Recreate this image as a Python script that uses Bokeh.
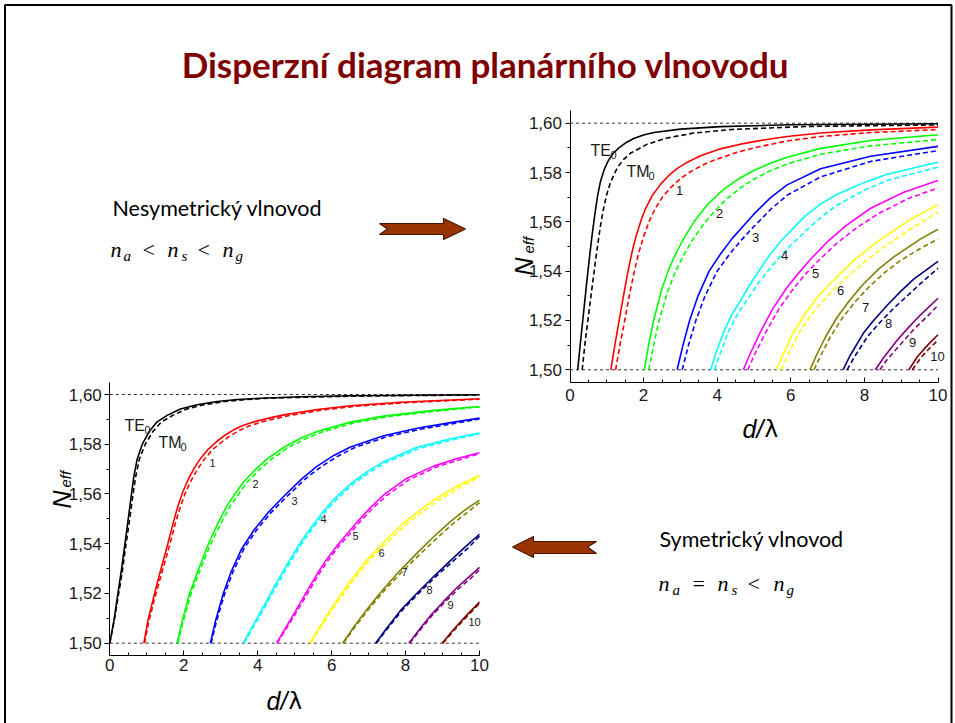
import math
from bokeh.plotting import figure
from bokeh.models import Range1d, LinearAxis, SingleIntervalTicker, CustomJSTickFormatter
from bokeh.embed import file_html
from bokeh.resources import INLINE
from bokeh.core.properties import value

# ---------------- data ----------------
mode_colors = ["#000000", "#FF0000", "#00FF00", "#0000FF", "#00FFFF", "#FF00FF",
               "#FFFF00", "#808000", "#000080", "#800080", "#800000"]
mode_numbers = ["1", "2", "3", "4", "5", "6", "7", "8", "9", "10"]
ref_levels = [1.50, 1.60]
x_span = [0.0, 10.0]

# asymmetric waveguide (upper-right chart): TE solid, TM dashed
asym_te_x = [
    [0.21, 0.28, 0.35, 0.42, 0.48, 0.54, 0.60, 0.67, 0.75, 0.83, 0.93, 1.03, 1.17, 1.33, 1.53, 1.73, 2.0, 2.28, 3.0, 4.09, 6.0, 10.0],
    [1.11, 1.23, 1.33, 1.46, 1.57, 1.69, 1.80, 1.95, 2.08, 2.25, 2.46, 2.70, 2.91, 3.2, 3.55, 4.09, 4.63, 5.3, 5.9, 6.81, 8.17, 10.0],
    [2.02, 2.14, 2.28, 2.50, 2.69, 2.89, 3.08, 3.36, 3.6, 3.77, 4.0, 4.23, 4.59, 4.99, 5.45, 5.9, 6.81, 8.17, 10.0],
    [2.91, 3.07, 3.25, 3.48, 3.78, 4.10, 4.42, 4.99, 5.45, 5.9, 6.81, 8.17, 10.0],
    [3.82, 3.97, 4.18, 4.40, 4.63, 4.9, 5.18, 5.45, 5.72, 6.35, 6.8, 7.26, 8.0, 8.62, 10.0],
    [4.71, 4.88, 5.18, 5.5, 5.9, 6.2, 6.5, 7.0, 7.5, 8.17, 9.07, 10.0],
    [5.61, 5.8, 6.05, 6.35, 6.7, 7.08, 7.71, 8.35, 9.2, 10.0],
    [6.52, 6.7, 6.95, 7.26, 7.6, 7.98, 8.4, 8.8, 9.52, 10.0],
    [7.42, 7.6, 7.98, 8.25, 8.62, 9.0, 9.34, 10.0],
    [8.30, 8.5, 8.89, 9.2, 9.52, 10.0],
    [9.21, 9.45, 9.75, 10.0],
]
asym_te_n = [
    [1.500, 1.5105, 1.5205, 1.5305, 1.5390, 1.5470, 1.5545, 1.5625, 1.5705, 1.5765, 1.5812, 1.5845, 1.5877, 1.5900, 1.5922, 1.5938, 1.5952, 1.5962, 1.5976, 1.5986, 1.5994, 1.5998],
    [1.500, 1.511, 1.5195, 1.5305, 1.5395, 1.5480, 1.5545, 1.5615, 1.5662, 1.5710, 1.5752, 1.5790, 1.5816, 1.5843, 1.5868, 1.5896, 1.5915, 1.5933, 1.5946, 1.5960, 1.5973, 1.5984],
    [1.500, 1.5105, 1.5205, 1.5330, 1.5410, 1.5475, 1.5530, 1.5598, 1.5645, 1.5675, 1.5708, 1.5738, 1.5775, 1.5808, 1.5838, 1.5862, 1.5898, 1.5930, 1.5953],
    [1.500, 1.510, 1.520, 1.530, 1.540, 1.5472, 1.5535, 1.5630, 1.5698, 1.5750, 1.5815, 1.5866, 1.5906],
    [1.500, 1.507, 1.5155, 1.5225, 1.528, 1.5348, 1.5412, 1.5470, 1.5520, 1.5618, 1.5672, 1.5712, 1.5760, 1.5793, 1.5842],
    [1.500, 1.506, 1.5155, 1.5245, 1.5335, 1.5390, 1.5442, 1.5520, 1.5585, 1.5655, 1.5720, 1.5768],
    [1.500, 1.5065, 1.5145, 1.5218, 1.5290, 1.5352, 1.5443, 1.5520, 1.5605, 1.5670],
    [1.500, 1.506, 1.5135, 1.5213, 1.5282, 1.5349, 1.5410, 1.5458, 1.5530, 1.5570],
    [1.500, 1.5055, 1.5150, 1.5200, 1.5262, 1.5320, 1.5368, 1.5440],
    [1.500, 1.5045, 1.5120, 1.5172, 1.5222, 1.5290],
    [1.500, 1.5055, 1.5105, 1.5142],
]
asym_tm_x = [
    [0.33, 0.41, 0.49, 0.57, 0.64, 0.70, 0.76, 0.83, 0.90, 1.0, 1.10, 1.28, 1.45, 1.64, 2.10, 2.64, 3.36, 4.45, 6.5, 10.0],
    [1.24, 1.37, 1.48, 1.63, 1.75, 1.87, 2.0, 2.16, 2.32, 2.52, 2.73, 3.0, 3.27, 3.6, 3.91, 4.54, 5.0, 5.9, 6.81, 8.17, 10.0],
    [2.14, 2.28, 2.41, 2.66, 2.87, 3.09, 3.32, 3.6, 3.86, 4.1, 4.32, 4.65, 4.99, 5.45, 5.9, 6.81, 8.17, 10.0],
    [3.05, 3.22, 3.42, 3.67, 4.0, 4.35, 4.68, 4.99, 5.45, 5.9, 6.81, 8.17, 10.0],
    [3.93, 4.09, 4.31, 4.55, 4.80, 5.1, 5.4, 5.7, 6.0, 6.6, 6.9, 7.26, 8.0, 8.62, 10.0],
    [4.83, 5.01, 5.33, 5.67, 6.1, 6.4, 6.72, 7.25, 7.78, 8.4, 9.2, 10.0],
    [5.74, 5.94, 6.2, 6.52, 6.9, 7.3, 7.98, 8.6, 9.3, 10.0],
    [6.63, 6.82, 7.08, 7.4, 7.76, 8.15, 8.58, 9.0, 9.52, 10.0],
    [7.53, 7.74, 8.1, 8.44, 8.8, 9.2, 9.6, 10.0],
    [8.42, 8.62, 9.05, 9.35, 9.7, 10.0],
    [9.30, 9.55, 9.8, 10.0],
]
asym_tm_n = [
    [1.500, 1.511, 1.5205, 1.5300, 1.5380, 1.5450, 1.5515, 1.5585, 1.5645, 1.5712, 1.5760, 1.5818, 1.5852, 1.5878, 1.5915, 1.5940, 1.5960, 1.5975, 1.5987, 1.5993],
    [1.500, 1.511, 1.5195, 1.5315, 1.5400, 1.5475, 1.5540, 1.5605, 1.5655, 1.5702, 1.5738, 1.5775, 1.5803, 1.5830, 1.5850, 1.5882, 1.5900, 1.5928, 1.5946, 1.5962, 1.5974],
    [1.500, 1.5105, 1.5195, 1.5320, 1.5400, 1.5465, 1.5525, 1.5585, 1.5632, 1.5670, 1.5700, 1.5740, 1.5772, 1.5808, 1.5835, 1.5874, 1.5908, 1.5934],
    [1.500, 1.510, 1.520, 1.530, 1.540, 1.5472, 1.5530, 1.5580, 1.5650, 1.5708, 1.5782, 1.5845, 1.5889],
    [1.500, 1.507, 1.5155, 1.5225, 1.528, 1.5348, 1.5405, 1.5458, 1.5505, 1.5590, 1.5628, 1.5668, 1.5728, 1.5768, 1.5822],
    [1.500, 1.506, 1.5155, 1.5245, 1.5335, 1.5388, 1.5438, 1.5513, 1.5575, 1.5635, 1.5695, 1.5738],
    [1.500, 1.5065, 1.5145, 1.5215, 1.5285, 1.5345, 1.5435, 1.5505, 1.5575, 1.5640],
    [1.500, 1.506, 1.5135, 1.5210, 1.5278, 1.5340, 1.5398, 1.5445, 1.5492, 1.5530],
    [1.500, 1.5055, 1.5138, 1.5195, 1.5250, 1.5305, 1.5360, 1.5412],
    [1.500, 1.5042, 1.5115, 1.5165, 1.5215, 1.5262],
    [1.500, 1.5052, 1.5092, 1.5120],
]

# symmetric waveguide (lower-left chart)
sym_te_x = [
    [0.0, 0.11, 0.22, 0.31, 0.41, 0.49, 0.56, 0.65, 0.74, 0.88, 1.06, 1.28, 1.55, 1.91, 2.36, 2.90, 3.45, 4.08, 5.2, 6.5, 10.0],
    [0.92, 1.03, 1.21, 1.37, 1.57, 1.71, 1.82, 1.96, 2.08, 2.18, 2.3, 2.45, 2.65, 2.90, 3.1, 3.35, 3.6, 3.9, 4.3, 4.71, 5.61, 6.51, 7.86, 10.0],
    [1.82, 1.96, 2.16, 2.38, 2.63, 2.77, 2.95, 3.18, 3.4, 3.62, 3.95, 4.26, 4.71, 5.16, 5.61, 6.51, 7.41, 8.76, 10.0],
    [2.72, 2.86, 3.07, 3.29, 3.57, 3.9, 4.28, 4.7, 5.2, 5.61, 6.06, 6.51, 7.41, 8.31, 9.22, 10.0],
    [3.61, 3.81, 4.0, 4.26, 4.48, 4.71, 4.93, 5.16, 5.47, 5.75, 6.06, 6.51, 6.96, 7.41, 8.31, 9.22, 10.0],
    [4.51, 4.75, 4.98, 5.3, 5.61, 5.88, 6.15, 6.38, 6.69, 7.05, 7.41, 8.0, 8.76, 9.4, 10.0],
    [5.41, 5.7, 5.97, 6.25, 6.51, 6.96, 7.45, 8.0, 8.4, 8.76, 9.4, 10.0],
    [6.30, 6.6, 6.9, 7.15, 7.41, 7.85, 8.31, 8.76, 9.22, 9.6, 10.0],
    [7.19, 7.5, 7.86, 8.3, 8.76, 9.2, 9.6, 10.0],
    [8.09, 8.4, 8.7, 9.03, 9.4, 9.7, 10.0],
    [8.99, 9.3, 9.65, 10.0],
]
sym_te_n = [
    [1.500, 1.509, 1.520, 1.529, 1.540, 1.549, 1.557, 1.567, 1.574, 1.580, 1.585, 1.589, 1.5916, 1.5942, 1.5959, 1.5972, 1.5980, 1.5985, 1.5991, 1.5995, 1.5999],
    [1.500, 1.509, 1.520, 1.529, 1.540, 1.548, 1.554, 1.5603, 1.5645, 1.5676, 1.5708, 1.5742, 1.5778, 1.5812, 1.5835, 1.5858, 1.5875, 1.5890, 1.5905, 1.5918, 1.5940, 1.5955, 1.5969, 1.5983],
    [1.500, 1.509, 1.520, 1.529, 1.5385, 1.5433, 1.5490, 1.5555, 1.5603, 1.5648, 1.5700, 1.5741, 1.5788, 1.5824, 1.5851, 1.5889, 1.5913, 1.5936, 1.5952],
    [1.500, 1.509, 1.520, 1.529, 1.538, 1.5455, 1.5525, 1.5590, 1.5662, 1.5712, 1.5755, 1.5789, 1.5834, 1.5864, 1.5887, 1.5905],
    [1.500, 1.5055, 1.5105, 1.5175, 1.5235, 1.5295, 1.5350, 1.5405, 1.5470, 1.5525, 1.5578, 1.5640, 1.5690, 1.5730, 1.5788, 1.5822, 1.5845],
    [1.500, 1.506, 1.5118, 1.520, 1.5279, 1.534, 1.5393, 1.5433, 1.5487, 1.5545, 1.5596, 1.5660, 1.5712, 1.5743, 1.5766],
    [1.500, 1.507, 1.5135, 1.5195, 1.525, 1.5335, 1.5412, 1.5490, 1.5535, 1.5575, 1.5632, 1.5674],
    [1.500, 1.5065, 1.5125, 1.5172, 1.5219, 1.5292, 1.5362, 1.5428, 1.5490, 1.5535, 1.5575],
    [1.500, 1.5062, 1.5131, 1.5200, 1.5268, 1.5330, 1.5385, 1.5438],
    [1.500, 1.506, 1.5115, 1.5168, 1.5225, 1.5265, 1.5305],
    [1.500, 1.5055, 1.5112, 1.5165],
]
sym_tm_x = [
    [0.0, 0.12, 0.24, 0.34, 0.44, 0.53, 0.60, 0.70, 0.80, 0.96, 1.16, 1.40, 1.70, 2.08, 2.55, 3.10, 3.70, 4.30, 5.5, 6.8, 10.0],
    [0.94, 1.06, 1.25, 1.42, 1.63, 1.77, 1.89, 2.04, 2.17, 2.28, 2.41, 2.57, 2.78, 3.04, 3.25, 3.51, 3.77, 4.07, 4.47, 4.88, 5.78, 6.66, 8.0, 10.0],
    [1.84, 1.99, 2.20, 2.43, 2.69, 2.84, 3.03, 3.27, 3.50, 3.72, 4.06, 4.38, 4.84, 5.29, 5.74, 6.64, 7.54, 8.88, 10.0],
    [2.74, 2.89, 3.11, 3.34, 3.63, 3.97, 4.36, 4.79, 5.30, 5.72, 6.18, 6.63, 7.53, 8.43, 9.33, 10.0],
    [3.63, 3.84, 4.04, 4.30, 4.53, 4.76, 4.98, 5.21, 5.53, 5.81, 6.13, 6.58, 7.04, 7.49, 8.40, 9.31, 10.0],
    [4.53, 4.78, 5.02, 5.35, 5.66, 5.94, 6.21, 6.45, 6.76, 7.13, 7.49, 8.09, 8.85, 9.49, 10.0],
    [5.43, 5.73, 6.01, 6.30, 6.57, 7.03, 7.53, 8.09, 8.49, 8.85, 9.49, 10.0],
    [6.32, 6.63, 6.94, 7.20, 7.47, 7.92, 8.39, 8.85, 9.31, 9.69, 10.0],
    [7.21, 7.53, 7.90, 8.35, 8.82, 9.27, 9.68, 10.0],
    [8.11, 8.43, 8.74, 9.08, 9.46, 9.77, 10.0],
    [9.01, 9.33, 9.69, 10.0],
]
sym_tm_n = [
    [1.500, 1.509, 1.520, 1.529, 1.540, 1.549, 1.557, 1.567, 1.574, 1.580, 1.585, 1.589, 1.5916, 1.5942, 1.5959, 1.5972, 1.5980, 1.5985, 1.5990, 1.5994, 1.5998],
    [1.500, 1.509, 1.520, 1.529, 1.540, 1.548, 1.554, 1.5603, 1.5645, 1.5676, 1.5708, 1.5742, 1.5778, 1.5810, 1.5833, 1.5856, 1.5873, 1.5888, 1.5903, 1.5916, 1.5938, 1.5953, 1.5967, 1.5981],
    [1.500, 1.509, 1.520, 1.529, 1.5385, 1.5433, 1.5490, 1.5555, 1.5603, 1.5648, 1.5700, 1.5741, 1.5788, 1.5822, 1.5849, 1.5887, 1.5911, 1.5934, 1.5950],
    [1.500, 1.509, 1.520, 1.529, 1.538, 1.5455, 1.5525, 1.5590, 1.5662, 1.5710, 1.5753, 1.5787, 1.5832, 1.5861, 1.5884, 1.5902],
    [1.500, 1.5055, 1.5105, 1.5175, 1.5235, 1.5295, 1.5350, 1.5405, 1.5470, 1.5525, 1.5578, 1.5640, 1.5688, 1.5728, 1.5785, 1.5819, 1.5842],
    [1.500, 1.506, 1.5118, 1.520, 1.5279, 1.534, 1.5393, 1.5433, 1.5487, 1.5545, 1.5594, 1.5657, 1.5709, 1.5739, 1.5762],
    [1.500, 1.507, 1.5135, 1.5195, 1.525, 1.5335, 1.5410, 1.5487, 1.5531, 1.5571, 1.5628, 1.5669],
    [1.500, 1.5065, 1.5125, 1.5172, 1.5219, 1.5290, 1.5358, 1.5423, 1.5484, 1.5528, 1.5565],
    [1.500, 1.5062, 1.5131, 1.5200, 1.5268, 1.5328, 1.5381, 1.5430],
    [1.500, 1.506, 1.5115, 1.5168, 1.5223, 1.5262, 1.5295],
    [1.500, 1.5055, 1.5112, 1.5160],
]

# ---------------- slide layout (reference pixel coordinates) ----------------
W, H = 955, 723

p = figure(width=W, height=H, output_backend="svg", toolbar_location=None,
           x_range=Range1d(0, W), y_range=Range1d(H, 0), min_border=0,
           x_axis_location=None, y_axis_location=None)
p.grid.visible = False
p.outline_line_color = None
p.background_fill_color = "white"
p.border_fill_color = "white"

# slide border (bottom edge lies outside the window)
p.line(x=[4.5, 4.5, 951, 951], y=[730, 4.5, 4.5, 730], line_color="black", line_width=2)

# title
p.text(x=[485], y=[63], text=["Disperzní diagram planárního vlnovodu"],
       text_font=value("Lato"), text_font_style="bold", text_font_size="35px",
       text_color="#7F0000", text_align="center", text_baseline="middle")

# description texts
p.text(x=[112, 659], y=[207, 538], text=["Nesymetrický vlnovod", "Symetrický vlnovod"],
       text_font=value("Lato"), text_font_size="21.5px", text_color="black",
       text_align="left", text_baseline="alphabetic")

math_parts = [
    # (text, x, baseline, size, italic)
    ("n", 110, 249, 22, True), ("a", 123, 255, 15, True), ("<", 142, 249, 22, False),
    ("n", 167, 249, 22, True), ("s", 181, 255, 15, True), ("<", 197, 249, 22, False),
    ("n", 222, 249, 22, True), ("g", 235, 255, 15, True),
    ("n", 658, 583, 22, True), ("a", 672, 589, 15, True), ("=", 692, 583, 22, False),
    ("n", 717, 583, 22, True), ("s", 731, 589, 15, True), ("<", 747, 583, 22, False),
    ("n", 773, 583, 22, True), ("g", 786, 589, 15, True),
]
for t, xx, yy, fs, it in math_parts:
    p.text(x=[xx], y=[yy], text=[t], text_font=value("Liberation Serif"),
           text_font_style="italic" if it else "normal", text_font_size=f"{fs}px",
           text_color="black", text_align="left", text_baseline="alphabetic")

# block arrows
arrow_r_x = [379, 443, 443, 465, 443, 443, 379, 387]
arrow_r_y = [223, 223, 218, 228.5, 239, 234, 234, 228.5]
arrow_l_x = [512, 533, 533, 596, 587, 596, 533, 533]
arrow_l_y = [546.5, 536, 541, 541, 546.5, 553, 553, 557]
p.patch(arrow_r_x, arrow_r_y, fill_color="#993300", line_color="#4a1500", line_width=1.2)
p.patch(arrow_l_x, arrow_l_y, fill_color="#993300", line_color="#4a1500", line_width=1.2)


def add_chart(name, x0px, x10px, y150px, y160px, te_x, te_n, tm_x, tm_n, lw, xlabel_standoff):
    ux = 10.0 / (x10px - x0px)
    uy = 0.1 / (y150px - y160px)
    p.extra_x_ranges[name + "x"] = Range1d(0 - x0px * ux, 10 + (W - x10px) * ux)
    p.extra_y_ranges[name + "y"] = Range1d(1.50 - (H - y150px) * uy, 1.60 + y160px * uy)
    kw = dict(x_range_name=name + "x", y_range_name=name + "y")

    for lvl in ref_levels:
        p.line(x=x_span, y=[lvl, lvl], line_color="#333333", line_width=1, line_dash="3 3", **kw)

    for i in range(len(te_x)):
        c = mode_colors[i]
        p.line(x=tm_x[i], y=tm_n[i], line_color=c, line_width=lw, line_dash="5 3", **kw)
        p.line(x=te_x[i], y=te_n[i], line_color=c, line_width=lw, **kw)

    xa = LinearAxis(fixed_location=1.495, bounds=(0, 10),
                    ticker=SingleIntervalTicker(interval=2, num_minor_ticks=4),
                    major_tick_in=5, major_tick_out=0, minor_tick_in=3, minor_tick_out=0,
                    axis_line_color="black", major_tick_line_color="black", minor_tick_line_color="black",
                    major_label_text_font="Liberation Sans", major_label_text_font_size="17px",
                    major_label_text_color="#1a1a1a", major_label_standoff=xlabel_standoff, **kw)
    p.add_layout(xa, "below")
    ya = LinearAxis(fixed_location=0, bounds=(1.495, 1.605),
                    ticker=SingleIntervalTicker(interval=0.02, num_minor_ticks=2),
                    formatter=CustomJSTickFormatter(code="return tick.toFixed(2).replace('.', ',')"),
                    major_tick_in=0, major_tick_out=5, minor_tick_in=0, minor_tick_out=3,
                    axis_line_color="black", major_tick_line_color="black", minor_tick_line_color="black",
                    major_label_text_font="Liberation Sans", major_label_text_font_size="17px",
                    major_label_text_color="#1a1a1a", major_label_standoff=3, **kw)
    p.add_layout(ya, "left")


add_chart("c1", 569.5, 937.5, 369.3, 122.7, asym_te_x, asym_te_n, asym_tm_x, asym_tm_n, 1.6, 7)
add_chart("c2", 109.3, 479.0, 642.7, 394.0, sym_te_x, sym_te_n, sym_tm_x, sym_tm_n, 1.6, 3)

# axis titles
lab_font = value("Liberation Sans")
for (nx, ny, ex, ey) in [(523, 275, 528, 253), (61, 508, 65, 487)]:
    p.text(x=[nx], y=[ny], text=["N"], angle=math.pi / 2, text_font=lab_font,
           text_font_style="italic", text_font_size="25px", text_color="black",
           text_align="left", text_baseline="alphabetic")
    p.text(x=[ex], y=[ey], text=["eff"], angle=math.pi / 2, text_font=lab_font,
           text_font_style="italic", text_font_size="15px", text_color="black",
           text_align="left", text_baseline="alphabetic")
for (dx, dy) in [(742, 428), (266, 700)]:
    p.text(x=[dx], y=[dy], text=["d/"], text_font=lab_font, text_font_style="italic",
           text_font_size="25px", text_color="black", text_align="left", text_baseline="alphabetic")
    p.text(x=[dx + 22], y=[dy], text=["λ"], text_font=value("DejaVu Sans"),
           text_font_size="23px", text_color="black", text_align="left", text_baseline="alphabetic")

# curve annotations
c1_num_x = [679, 719, 755, 784, 815, 840, 865, 888, 912, 937]
c1_num_y = [190, 213, 237, 255, 273, 290, 307, 323, 342, 356]
c2_num_x = [212, 255, 294, 323, 355, 381, 404, 429, 450, 474]
c2_num_y = [462, 483, 500, 518, 535, 552, 571, 589, 604, 621]
p.text(x=c1_num_x, y=c1_num_y, text=mode_numbers, text_font=lab_font, text_font_size="13px",
       text_color="#1a1a1a", text_align="center", text_baseline="middle")
p.text(x=c2_num_x, y=c2_num_y, text=mode_numbers, text_font=lab_font, text_font_size="11px",
       text_color="#1a1a1a", text_align="center", text_baseline="middle")

for (tx, ty, mx, my) in [(590, 150, 626, 171), (124, 425, 158, 442)]:
    p.text(x=[tx], y=[ty], text=["TE"], text_font=lab_font, text_font_size="16px",
           text_color="#1a1a1a", text_align="left", text_baseline="alphabetic")
    p.text(x=[tx + 20], y=[ty + 4], text=["0"], text_font=lab_font, text_font_size="11px",
           text_color="#1a1a1a", text_align="left", text_baseline="alphabetic")
    p.text(x=[mx], y=[my], text=["TM"], text_font=lab_font, text_font_size="16px",
           text_color="#1a1a1a", text_align="left", text_baseline="alphabetic")
    p.text(x=[mx + 22], y=[my + 4], text=["0"], text_font=lab_font, text_font_size="11px",
           text_color="#1a1a1a", text_align="left", text_baseline="alphabetic")

open("out.html", "w").write(file_html(p, INLINE))
